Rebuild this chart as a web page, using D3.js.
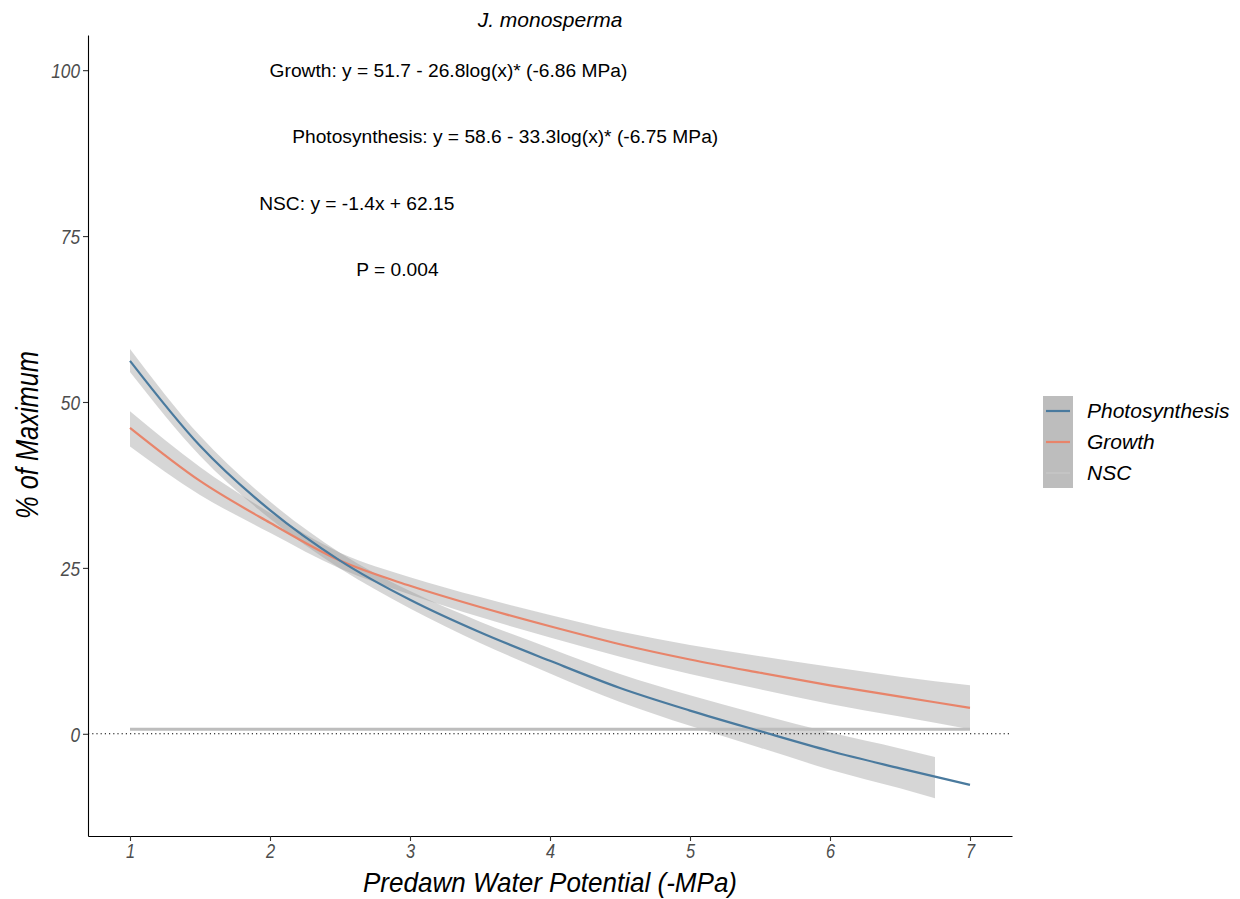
<!DOCTYPE html>
<html>
<head>
<meta charset="utf-8">
<script src="https://cdn.jsdelivr.net/npm/d3@7"></script>
<style>
  body { margin: 0; background: #fff; }
  text { font-family: "Liberation Sans", Arial, sans-serif; }
</style>
</head>
<body>
<div id="grafico"></div>
<script>
// Datos
const xGrid = [1, 1.5, 2, 2.5, 3, 3.5, 4, 4.5, 5, 5.5, 6, 6.5, 7];
const photoY = [56.2, 43.4, 33.7, 26.1, 20.2, 15.3, 11.0, 6.9, 3.5, 0.4, -2.6, -5.2, -7.7];
const growthY = [46.1, 38.1, 31.8, 26.1, 22.3, 19.1, 16.2, 13.5, 11.2, 9.2, 7.3, 5.6, 3.9];

// bandas de confianza
const photoBandX = [1, 1.5, 2, 2.5, 3, 3.5, 4, 4.5, 5, 5.5, 6, 6.5, 6.75];
const photoLow = [54.5, 41.9, 32.4, 24.9, 18.9, 13.7, 9.1, 4.8, 1.2, -2.1, -5.4, -8.2, -9.7];
const photoHigh = [58.0, 44.9, 35.0, 27.3, 21.5, 16.9, 12.9, 9.0, 5.8, 2.9, 0.2, -2.2, -3.5];
const growthLow = [43.3, 36.0, 30.3, 24.9, 21.0, 17.6, 14.5, 11.6, 9.0, 6.7, 4.5, 2.6, 0.7];
const growthHigh = [48.6, 40.2, 33.3, 27.3, 23.6, 20.6, 17.9, 15.4, 13.4, 11.7, 10.1, 8.6, 7.3];

const nscX = [1, 7];
const nscY = [0.7, 0.7];

const xTicks = [1, 2, 3, 4, 5, 6, 7];
const yTicks = [0, 25, 50, 75, 100];

const noteText = [
  'Growth: y = 51.7 - 26.8log(x)* (-6.86 MPa)',
  'Photosynthesis: y = 58.6 - 33.3log(x)* (-6.75 MPa)',
  'NSC: y = -1.4x + 62.15',
  'P = 0.004'
];
const noteX = [3.275, 3.68, 2.62, 2.91];
const noteY = [100, 90, 80, 70];

const legendNames = ['Photosynthesis', 'Growth', 'NSC'];
const colores = { Photosynthesis: '#4a7a9e', Growth: '#e8846a', NSC: '#c4c4c4' };

const width = 1240;
const height = 899;
const angosto = 0.82; // fuente estrecha de los ejes

const svg = d3.select('#grafico')
  .append('svg')
  .attr('width', width)
  .attr('height', height);

const x = d3.scaleLinear().domain([0.7, 7.3]).range([88, 1012]);
const y = d3.scaleLinear().domain([-15.4, 105.3]).range([836, 35]);

// bandas
const area = d3.area()
  .x(d => x(d[0]))
  .y0(d => y(d[1]))
  .y1(d => y(d[2]))
  .curve(d3.curveMonotoneX);

svg.append('path')
  .datum(xGrid.map((v, i) => [v, growthLow[i], growthHigh[i]]))
  .attr('d', area)
  .attr('fill', '#999')
  .attr('fill-opacity', 0.4);

svg.append('path')
  .datum(photoBandX.map((v, i) => [v, photoLow[i], photoHigh[i]]))
  .attr('d', area)
  .attr('fill', '#999')
  .attr('fill-opacity', 0.4);

const line = d3.line()
  .x(d => x(d[0]))
  .y(d => y(d[1]))
  .curve(d3.curveMonotoneX);

// NSC
svg.append('path')
  .datum(nscX.map((v, i) => [v, nscY[i]]))
  .attr('d', line)
  .attr('fill', 'none')
  .attr('stroke', '#bdbdbd')
  .attr('stroke-width', 3);

// linea punteada en cero
svg.append('line')
  .attr('x1', x(0.7)).attr('x2', x(7.3))
  .attr('y1', y(0)).attr('y2', y(0))
  .attr('stroke', '#000')
  .attr('stroke-width', 1.1)
  .attr('stroke-dasharray', '1.2,3');

svg.append('path')
  .datum(xGrid.map((v, i) => [v, growthY[i]]))
  .attr('d', line)
  .attr('fill', 'none')
  .attr('stroke', colores.Growth)
  .attr('stroke-width', 2.2);

svg.append('path')
  .datum(xGrid.map((v, i) => [v, photoY[i]]))
  .attr('d', line)
  .attr('fill', 'none')
  .attr('stroke', colores.Photosynthesis)
  .attr('stroke-width', 2.2);

// ejes
const gx = svg.append('g')
  .attr('transform', `translate(0, 836)`)
  .call(d3.axisBottom(x).tickValues(xTicks).tickFormat(d3.format('d')).tickSize(5).tickSizeOuter(0));

const gy = svg.append('g')
  .attr('transform', `translate(88, 0)`)
  .call(d3.axisLeft(y).tickValues(yTicks).tickFormat(d3.format('d')).tickSize(5).tickSizeOuter(0));

[gx, gy].forEach(g => {
  g.select('.domain').attr('stroke', '#000').attr('stroke-width', 1.1);
  g.selectAll('.tick line').attr('stroke', '#333').attr('stroke-width', 1.1);
  g.selectAll('.tick text')
    .attr('fill', '#4d4d4d')
    .style('font-style', 'italic')
    .style('font-size', '21px');
});
gx.selectAll('.tick text')
  .attr('x', 0).attr('y', 8).attr('dy', '0.71em')
  .style('font-size', '20px')
  .attr('transform', `scale(${angosto},1)`);
gy.selectAll('.tick text')
  .attr('x', -8 / angosto).attr('dy', '0.35em')
  .attr('transform', `scale(${angosto},1)`);

// titulos de ejes
svg.append('text')
  .attr('transform', `translate(550, 892) scale(0.93,1)`)
  .attr('text-anchor', 'middle')
  .style('font-style', 'italic')
  .style('font-size', '28px')
  .text('Predawn Water Potential (-MPa)');

svg.append('text')
  .attr('transform', `translate(38, 435) rotate(-90) scale(${angosto},1)`)
  .attr('text-anchor', 'middle')
  .style('font-style', 'italic')
  .style('font-size', '31px')
  .text('% of Maximum');

svg.append('text')
  .attr('x', 550).attr('y', 27)
  .attr('text-anchor', 'middle')
  .style('font-style', 'italic')
  .style('font-size', '21px')
  .text('J. monosperma');

// anotaciones
svg.selectAll('.nota')
  .data(noteText)
  .enter()
  .append('text')
  .attr('class', 'nota')
  .attr('x', (d, i) => x(noteX[i]))
  .attr('y', (d, i) => y(noteY[i]))
  .attr('dy', '0.35em')
  .attr('text-anchor', 'middle')
  .style('font-size', '19.2px')
  .text(d => d);

// leyenda
const leg = svg.append('g').attr('transform', 'translate(1043, 396)');
leg.append('rect')
  .attr('width', 30).attr('height', 92)
  .attr('fill', '#bdbdbd');
legendNames.forEach((n, i) => {
  const cy = 15 + i * 31;
  leg.append('line')
    .attr('x1', 3).attr('x2', 27)
    .attr('y1', cy).attr('y2', cy)
    .attr('stroke', colores[n])
    .attr('stroke-width', 2.2);
  leg.append('text')
    .attr('x', 44).attr('y', cy)
    .attr('dy', '0.35em')
    .style('font-style', 'italic')
    .style('font-size', '21px')
    .text(n);
});
</script>
</body>
</html>
